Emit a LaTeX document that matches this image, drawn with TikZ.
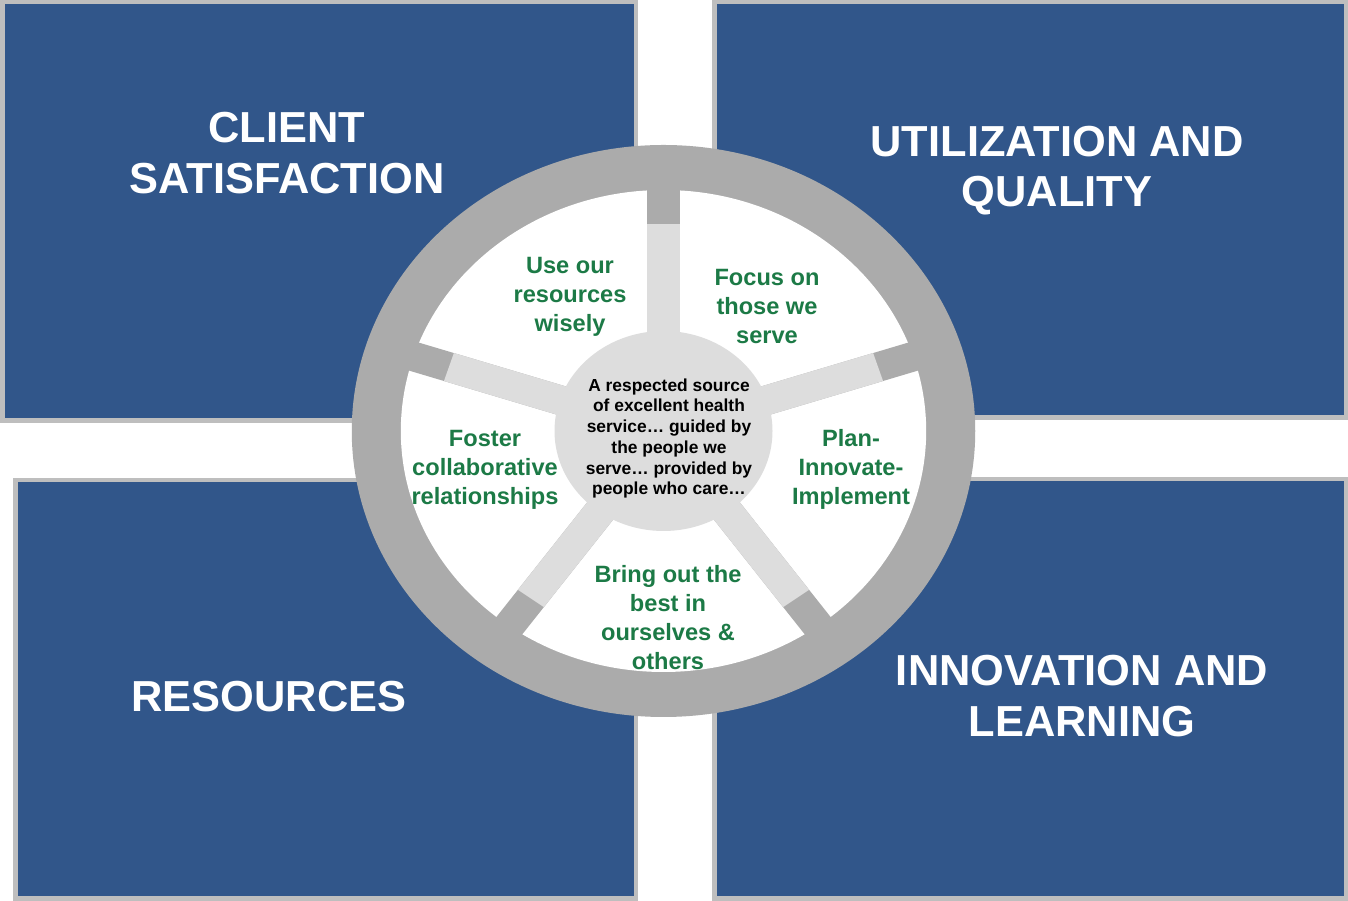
\documentclass[tikz,border=0pt]{standalone}
\usepackage{fontspec}
\setmainfont{Liberation Sans}
\definecolor{panelblue}{RGB}{49,86,138}
\definecolor{panelgray}{RGB}{190,190,190}
\definecolor{ringgray}{RGB}{171,171,171}
\definecolor{spokegray}{RGB}{221,221,221}
\definecolor{valuegreen}{RGB}{28,122,70}
\begin{document}
\begin{tikzpicture}[x=1pt,y=1pt,
  panel/.style={fill=panelblue, draw=panelgray, line width=4.5pt},
  heading/.style={text=white, font=\bfseries\fontsize{43.4}{50.5}\selectfont, align=center, inner sep=0pt},
  value/.style={text=valuegreen, font=\bfseries\fontsize{23.6}{29}\selectfont, align=center, inner sep=0pt},
  mission/.style={text=black, font=\bfseries\fontsize{17.4}{20.7}\selectfont, align=center, inner sep=0pt}]
\useasboundingbox (0,0) rectangle (1348,901);

% four quadrant panels
\draw[panel] (2.25,898.75) rectangle (635.75,480.25);
\draw[panel] (714.25,898.75) rectangle (1345.75,483.25);
\draw[panel] (15.25,420.75) rectangle (635.75,2.25);
\draw[panel] (714.25,421.75) rectangle (1345.75,2.25);

\node[heading] (client) at (287,748) {CLIENT\\SATISFACTION};
\node[heading] (util) at (1057,730.5) {UTILIZATION AND\\QUALITY};
\node[heading] (res) at (269,204) {RESOURCES};
\node[heading] (innov) at (1082,205) {INNOVATION AND\\LEARNING};

% the wheel: rim, white segments, spokes and hub
\begin{scope}[shift={(663.5,470)}, xscale=1.09]
  \fill[ringgray] (0,0) circle [radius=286];
  \fill[white] (0,0) circle [radius=241];
  \foreach \a in {90,18,-54,-126,162}{
    \fill[ringgray, rotate=\a] (0,-14.7) rectangle (250,14.7);
    \fill[spokegray, rotate=\a] (0,-14.7) rectangle (207,14.7);
  }
  \fill[spokegray] (0,0) circle [radius=100];
\end{scope}

\node[value] (wisely) at (570,604.5) {Use our\\resources\\wisely};
\node[value] (focus) at (767,594.5) {Focus on\\those we\\serve};
\node[value] (foster) at (485,431.5) {Foster\\collaborative\\relationships};
\node[value] (plan) at (851,431.5) {Plan-\\Innovate-\\Implement};
\node[value] (best) at (668,283) {Bring out the\\best in\\ourselves \&\\others};
\node[mission] (hub) at (669,462.5) {A respected source\\of excellent health\\service\ldots{} guided by\\the people we\\serve\ldots{} provided by\\people who care\ldots};
\end{tikzpicture}
\end{document}
